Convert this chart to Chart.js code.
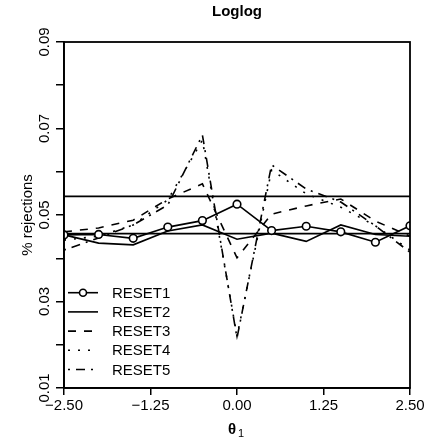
<!DOCTYPE html>
<html><head><meta charset="utf-8">
<script src="https://cdn.jsdelivr.net/npm/chart.js@4.4.0/dist/chart.umd.min.js"></script>
<style>html,body{margin:0;padding:0;background:#fff;} canvas{display:block;}</style>
</head><body>
<canvas id="c" width="444" height="440"></canvas>
<script>
// ---- data ----
const thetaValues = [-2.5, -2, -1.5, -1, -0.5, 0, 0.5, 1, 1.5, 2, 2.5];
const reset1 = [0.0454, 0.0455, 0.0446, 0.0472, 0.0487, 0.0525, 0.0464, 0.0474, 0.0461, 0.0437, 0.0475];
const reset2 = [0.0454, 0.0435, 0.0431, 0.0463, 0.0477, 0.0444, 0.0458, 0.0439, 0.0477, 0.0455, 0.0451];
const reset3 = [0.0461, 0.0470, 0.0488, 0.0537, 0.0572, 0.0401, 0.0502, 0.0521, 0.0537, 0.0486, 0.0451];
const reset4 = [0.0442, 0.0451, 0.0477, 0.0535, 0.0673, 0.0220, 0.0604, 0.0549, 0.0518, 0.0475, 0.0419];
const reset5 = [0.0419, 0.0447, 0.0477, 0.0523, 0.0685, 0.0216, 0.0616, 0.0560, 0.0530, 0.0475, 0.0414];
const seriesNames = ['RESET1', 'RESET2', 'RESET3', 'RESET4', 'RESET5'];
const refUpper = 0.0543;
const refLower = 0.0457;
const xTickValues = [-2.5, -1.25, 0, 1.25, 2.5];
const xTickLabels = ['\u22122.50', '\u22121.25', '0.00', '1.25', '2.50'];
const yTickValues = [0.01, 0.02, 0.03, 0.04, 0.05, 0.06, 0.07, 0.08, 0.09];
const yTickLabels = ['0.01', '', '0.03', '', '0.05', '', '0.07', '', '0.09'];
const chartTitle = 'Loglog';
const yTitle = '% rejections';

// ---- styles ----
const FONT = '"Liberation Sans", Arial, Helvetica, sans-serif';
const LW = 1.6;
const dashes = [[], [], [8, 8], [2, 8], [2, 6, 9, 6]];

const series = [reset1, reset2, reset3, reset4, reset5];
const datasets = series.map((vals, i) => ({
  label: seriesNames[i],
  data: thetaValues.map((x, j) => ({x: x, y: vals[j]})),
  borderColor: '#000',
  borderWidth: LW,
  borderDash: dashes[i],
  backgroundColor: '#fff',
  pointRadius: i === 0 ? 3.8 : 0,
  pointBorderWidth: LW,
  pointBorderColor: '#000',
  pointBackgroundColor: '#fff',
  tension: 0,
  fill: false
}));
[refUpper, refLower].forEach(v => datasets.push({
  label: 'ref',
  data: [{x: thetaValues[0], y: v}, {x: thetaValues[thetaValues.length - 1], y: v}],
  borderColor: '#000', borderWidth: LW, pointRadius: 0, fill: false
}));

const decor = {
  id: 'decor',
  afterDatasetsDraw(chart) {
    const ctx = chart.ctx, a = chart.chartArea, ys = chart.scales.y;
    ctx.save();
    // frame
    ctx.strokeStyle = '#000'; ctx.lineWidth = 1.8; ctx.setLineDash([]);
    ctx.strokeRect(a.left, a.top, a.right - a.left, a.bottom - a.top);
    // y tick labels (rotated, reading upward)
    ctx.font = '15px ' + FONT; ctx.fillStyle = '#000';
    ctx.textAlign = 'center'; ctx.textBaseline = 'middle';
    yTickValues.forEach((v, i) => {
      if (!yTickLabels[i]) return;
      const py = ys.getPixelForValue(v);
      ctx.save();
      ctx.translate(a.left - 19, py);
      ctx.rotate(-Math.PI / 2);
      ctx.fillText(yTickLabels[i], 0, 0);
      ctx.restore();
    });
    // legend
    const lx0 = a.left + 4, lx1 = a.left + 34, tx = a.left + 48;
    const ly0 = 292.7, dy = 19.2;
    ctx.textAlign = 'left'; ctx.textBaseline = 'middle';
    seriesNames.forEach((name, i) => {
      const y = ly0 + i * dy;
      ctx.setLineDash(dashes[i]); ctx.lineWidth = LW;
      ctx.beginPath(); ctx.moveTo(lx0, y); ctx.lineTo(lx1, y); ctx.stroke();
      ctx.setLineDash([]);
      if (i === 0) {
        ctx.beginPath(); ctx.arc((lx0 + lx1) / 2, y, 3.5, 0, Math.PI * 2);
        ctx.fillStyle = '#fff'; ctx.fill(); ctx.stroke(); ctx.fillStyle = '#000';
      }
      ctx.fillText(name, tx, y + 1);
    });
    // title
    const cx = (a.left + a.right) / 2;
    ctx.font = 'bold 15px ' + FONT; ctx.textAlign = 'center';
    ctx.fillText(chartTitle, cx, 12);
    // x title theta_1
    ctx.font = 'bold 15px ' + FONT; ctx.textAlign = 'left';
    ctx.fillText('\u03B8', cx - 9, 430);
    ctx.font = '11px ' + FONT;
    ctx.fillText('1', cx + 1, 434);
    // y title
    ctx.translate(28, (a.top + a.bottom) / 2);
    ctx.rotate(-Math.PI / 2);
    ctx.font = '15px ' + FONT; ctx.textAlign = 'center';
    ctx.fillText(yTitle, 0, 0);
    ctx.restore();
  }
};

new Chart(document.getElementById('c'), {
  type: 'line',
  data: {datasets},
  options: {
    responsive: false, animation: false, devicePixelRatio: 1,
    layout: {padding: {top: 42, right: 34, left: 0, bottom: 0}},
    plugins: {legend: {display: false}, title: {display: false}, tooltip: {enabled: false}},
    scales: {
      x: {
        type: 'linear', min: -2.5, max: 2.5,
        afterBuildTicks: s => { s.ticks = xTickValues.map(v => ({value: v})); },
        afterFit: s => { s.height = 52; },
        grid: {display: true, drawOnChartArea: false, drawTicks: true, tickLength: 7, color: '#000', lineWidth: 1.5},
        border: {display: true, color: '#000', width: 1.8},
        ticks: {color: '#000', font: {family: FONT, size: 15}, padding: 2, maxRotation: 0, autoSkip: false,
          callback: (v, i) => xTickLabels[i]}
      },
      y: {
        type: 'linear', min: 0.01, max: 0.09,
        afterBuildTicks: s => { s.ticks = yTickValues.map(v => ({value: v})); },
        afterFit: s => { s.width = 64; },
        grid: {display: true, drawOnChartArea: false, drawTicks: true, tickLength: 8, color: '#000', lineWidth: 1.5},
        border: {display: true, color: '#000', width: 1.8},
        ticks: {display: false}
      }
    }
  },
  plugins: [decor]
});
</script>
</body></html>
